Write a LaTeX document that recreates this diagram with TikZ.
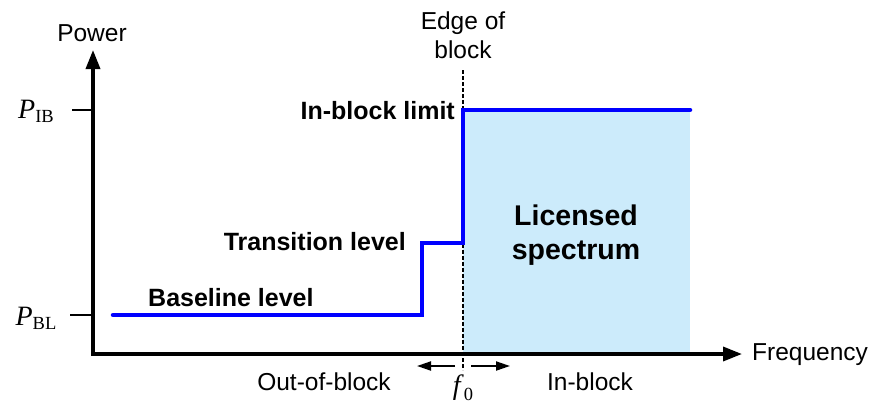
\documentclass[tikz,border=0pt]{standalone}
\usepackage{fontspec}
\setmainfont{Liberation Sans}
\newfontfamily\serifm{Liberation Serif}
\usetikzlibrary{arrows.meta}
\definecolor{licblue}{HTML}{CCEBFB}
\definecolor{linblue}{HTML}{0000FF}
\tikzset{
  lbl/.style={font=\fontsize{24.5}{29}\selectfont, inner sep=0pt},
  blbl/.style={font=\fontsize{25}{29}\selectfont\bfseries, inner sep=0pt},
  plbl/.style={font=\fontsize{28}{30}\selectfont\serifm, inner sep=0pt},
  axis/.style={line width=3.5pt, line join=miter, {Triangle[length=19pt,width=14pt]}-{Triangle[length=19pt,width=14pt]}},
  smallarrow/.style={line width=2pt, -{Triangle[length=14pt,width=9pt]}},
  level/.style={line width=4.5pt, color=linblue, line cap=round, line join=miter},
}
\begin{document}
\begin{tikzpicture}[x=1pt,y=-1pt]
\useasboundingbox (0,0) rectangle (874,407);
% coordinates
\coordinate (O) at (93,354);
\coordinate (ytip) at (93,50);
\coordinate (xtip) at (742,354);
\coordinate (e0) at (463,110);
\coordinate (e1) at (690,354);
\coordinate (dtop) at (463,70);
\coordinate (dbot) at (463,370);
% licensed region
\fill[licblue] (e0) rectangle (e1);
% dashed edge
\draw[line width=1.3pt, dash pattern=on 4pt off 2pt] (dtop) -- (dbot);
% level line
\coordinate (b0) at (113,315);
\coordinate (b1) at (422,315);
\coordinate (t0) at (422,243);
\coordinate (t1) at (463,243);
\coordinate (i0) at (463,110);
\coordinate (i1) at (690,110);
\draw[level] (b0) -- (b1) -- (t0) -- (t1) -- (i0) -- (i1);
% axes
\draw[axis] (ytip) -- (O) -- (xtip);
% ticks
\coordinate (tib) at (72,110);
\coordinate (tibe) at (93,110);
\coordinate (tbl) at (70,315);
\coordinate (tble) at (93,315);
\draw[line width=1.5pt] (tib) -- (tibe);
\draw[line width=1.5pt] (tbl) -- (tble);
% labels
\node[lbl] (power) at (92,33) {Power};
\node[lbl] (freq) at (810,355) {Frequency};
\node[lbl, align=center] (edge) at (463,35) {Edge of\\block};
\node[plbl] (pib) at (36,111) {\textit{P}\raisebox{-0.3ex}{\fontsize{18.5}{20}\selectfont IB}};
\node[plbl] (pbl) at (36,318) {\textit{P}\raisebox{-0.3ex}{\fontsize{18.5}{20}\selectfont BL}};
\node[blbl, anchor=east] (ibl) at (455,111) {In-block limit};
\node[blbl, anchor=east] (trl) at (406,242) {Transition level};
\node[blbl, anchor=west] (bll) at (148,298) {Baseline level};
\node[font=\fontsize{28.5}{34}\selectfont\bfseries, align=center, inner sep=0pt] (lic) at (576,235) {Licensed\\spectrum};
\node[lbl] (oob) at (324,382) {Out-of-block};
\node[lbl] (inb) at (590,382) {In-block};
\node[plbl] (f0) at (463,388) {\textit{f}\raisebox{-0.4ex}{\fontsize{18.5}{20}\selectfont 0}};
% small arrows
\coordinate (la0) at (455,366);
\coordinate (la1) at (417,366);
\coordinate (ra0) at (471,366);
\coordinate (ra1) at (510,366);
\draw[smallarrow] (la0) -- (la1);
\draw[smallarrow] (ra0) -- (ra1);
\end{tikzpicture}
\end{document}
